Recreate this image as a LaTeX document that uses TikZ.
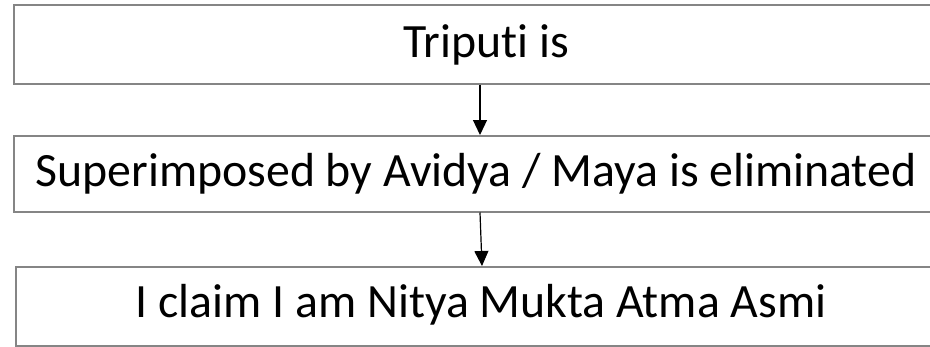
\documentclass[tikz,border=0pt]{standalone}
\usepackage{fontspec}
\setmainfont[Ligatures=NoCommon]{Carlito}
\usetikzlibrary{arrows.meta,calc}
\begin{document}
\begin{tikzpicture}[x=1pt,y=-1pt,
  boxx/.style={draw=black!48,line width=1.5pt,rectangle,inner sep=0pt,anchor=north west},
  lbl/.style={font=\fontsize{47.8}{56}\selectfont,inner sep=0pt,anchor=center},
  arr/.style={line width=1.2pt,-{Triangle[length=15pt,width=14pt]}}]
\useasboundingbox (0,0) rectangle (930,346);
\clip (0,0) rectangle (930,346);
\node[boxx,minimum width=930pt,minimum height=79pt] (b1) at (13,4) {};
\node[boxx,minimum width=930pt,minimum height=76pt] (b2) at (13,135) {};
\node[boxx,minimum width=930pt,minimum height=79pt] (b3) at (15,266) {};
\node[lbl] (t1) at (486,45) {Triputi is};
\node[lbl] (t2) at (476,174) {Superimposed by Avidya / Maya is eliminated};
\node[lbl] (t3) at (481,305) {I claim I am Nitya Mukta Atma Asmi};
\draw[arr] ($(b1.south west)+(467,0)$) -- ($(b2.north west)+(467,0)$);
\draw[arr] ($(b2.south west)+(467,0)$) -- ($(b3.north west)+(467,0)$);
\end{tikzpicture}
\end{document}
